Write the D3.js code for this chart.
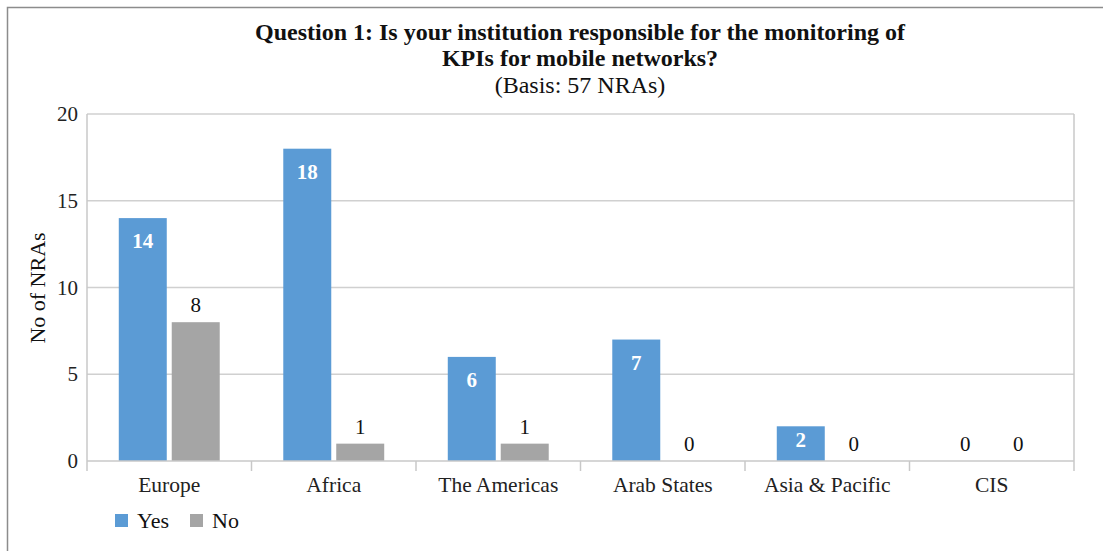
<!DOCTYPE html>
<html><head><meta charset="utf-8">
<script src="https://cdn.jsdelivr.net/npm/d3@7"></script>
<style>
html,body{margin:0;padding:0;background:#fff;}
svg text{font-family:"Liberation Serif","Times New Roman",serif;}
</style></head>
<body>
<svg id="chart" width="1103" height="551"></svg>
<script>
const categories = ["Europe", "Africa", "The Americas", "Arab States", "Asia & Pacific", "CIS"];
const seriesNames = ["Yes", "No"];
const yesValues = [14, 18, 6, 7, 2, 0];
const noValues = [8, 1, 1, 0, 0, 0];
const yTicks = [0, 5, 10, 15, 20];
const titleLines = ["Question 1: Is your institution responsible for the monitoring of", "KPIs for mobile networks?"];
const subtitle = "(Basis: 57 NRAs)";
const yAxisLabel = "No of NRAs";
const colors = {Yes: "#5b9bd5", No: "#a5a5a5"};

const svg = d3.select("#chart");
const m = {left: 87, right: 1074, top: 114, bottom: 461};
const serif = '"Liberation Serif","Times New Roman",serif';

// outer border
svg.append("rect").attr("x", 7.5).attr("y", 7.5).attr("width", 1120).attr("height", 600)
  .attr("fill", "none").attr("stroke", "#8c8c8c").attr("stroke-width", 1.5);

const x = d3.scaleBand().domain(categories).range([m.left, m.right]).paddingInner(0).paddingOuter(0);
const xs = d3.scaleBand().domain(seriesNames).range([0, x.bandwidth()]).paddingInner(0.094).paddingOuter(0.6);
const y = d3.scaleLinear().domain([0, 20]).range([m.bottom, m.top]);

// gridlines
svg.append("g").selectAll("line").data(yTicks.filter(d => d > 0)).join("line")
  .attr("x1", m.left).attr("x2", m.right)
  .attr("y1", d => y(d)).attr("y2", d => y(d))
  .attr("stroke", "#d0d0d0").attr("stroke-width", 1.5);
// plot borders left/right
svg.append("line").attr("x1", m.left).attr("x2", m.left).attr("y1", m.top).attr("y2", m.bottom + 10)
  .attr("stroke", "#c8c8c8").attr("stroke-width", 1.5);
svg.append("line").attr("x1", m.right).attr("x2", m.right).attr("y1", m.top).attr("y2", m.bottom + 10)
  .attr("stroke", "#c8c8c8").attr("stroke-width", 1.5);

// y axis labels
const yAxis = d3.axisLeft(y).tickValues(yTicks).tickSize(0).tickPadding(8);
const gy = svg.append("g").attr("transform", `translate(${m.left},0)`).call(yAxis);
gy.select(".domain").remove();
gy.selectAll("text").attr("font-size", 21).attr("fill", "#222").attr("dx", "-1")
  .style("font-family", serif);

// bars
const data = categories.map((c, i) => ({cat: c, Yes: yesValues[i], No: noValues[i]}));
const groups = svg.append("g").selectAll("g").data(data).join("g")
  .attr("transform", d => `translate(${x(d.cat)},0)`);
groups.selectAll("rect").data(d => seriesNames.map(s => ({s, v: d[s]}))).join("rect")
  .attr("x", d => xs(d.s)).attr("width", xs.bandwidth())
  .attr("y", d => y(d.v)).attr("height", d => y(0) - y(d.v))
  .attr("fill", d => colors[d.s]);

// labels
groups.selectAll("text.val").data(d => seriesNames.map(s => ({s, v: d[s]}))).join("text")
  .attr("class", "val")
  .attr("x", d => xs(d.s) + xs.bandwidth() / 2)
  .attr("y", d => (d.s === "Yes" && d.v > 0) ? y(d.v) + (d.v >= 5 ? 30 : 21) : y(d.v) - 10)
  .attr("text-anchor", "middle")
  .attr("font-size", 21)
  .attr("font-weight", d => (d.s === "Yes" && d.v > 0) ? "bold" : "normal")
  .attr("fill", d => (d.s === "Yes" && d.v > 0) ? "#fff" : "#111")
  .text(d => d.v);

// baseline
svg.append("line").attr("x1", m.left).attr("x2", m.right).attr("y1", y(0)).attr("y2", y(0))
  .attr("stroke", "#c8c8c8").attr("stroke-width", 1.5);

// x axis
const xAxis = d3.axisBottom(x).tickSize(0).tickPadding(16);
const gx = svg.append("g").attr("transform", `translate(0,${m.bottom})`).call(xAxis);
gx.select(".domain").remove();
gx.selectAll("text").attr("font-size", 21.5).attr("fill", "#222")
  .style("font-family", serif);
// category boundary ticks
svg.append("g").selectAll("line").data(categories.slice(1)).join("line")
  .attr("x1", d => x(d)).attr("x2", d => x(d))
  .attr("y1", m.bottom).attr("y2", m.bottom + 10)
  .attr("stroke", "#c8c8c8").attr("stroke-width", 1.5);

// titles
svg.append("text").attr("x", 580).attr("y", 40).attr("text-anchor", "middle")
  .attr("font-size", 24).attr("font-weight", "bold").attr("fill", "#111").text(titleLines[0]);
svg.append("text").attr("x", 580).attr("y", 66).attr("text-anchor", "middle")
  .attr("font-size", 24).attr("font-weight", "bold").attr("fill", "#111").text(titleLines[1]);
svg.append("text").attr("x", 580).attr("y", 93).attr("text-anchor", "middle")
  .attr("font-size", 24).attr("fill", "#111").text(subtitle);

// y axis title
svg.append("text").attr("transform", "translate(45,288) rotate(-90)")
  .attr("text-anchor", "middle").attr("font-size", 22).attr("fill", "#111").text(yAxisLabel);

// legend
const leg = svg.append("g").selectAll("g").data(seriesNames).join("g")
  .attr("transform", (d, i) => `translate(${115 + i * 75},514)`);
leg.append("rect").attr("width", 13).attr("height", 13).attr("fill", d => colors[d]);
leg.append("text").attr("x", 22).attr("y", 14).attr("font-size", 22).attr("fill", "#111").text(d => d);
</script>
</body></html>
